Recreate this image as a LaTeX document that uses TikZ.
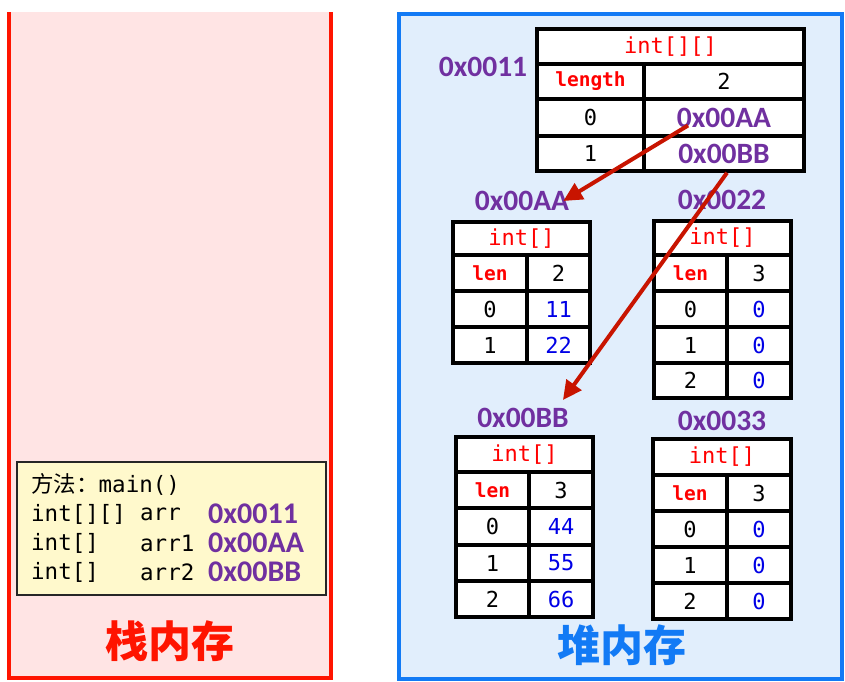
\documentclass[tikz,border=0pt]{standalone}
\usepackage{fontspec}
\setmainfont{Carlito}
\setmonofont{DejaVu Sans Mono}
\newfontfamily\cjk{Noto Sans CJK SC}
\usetikzlibrary{arrows.meta,calc}
\definecolor{hexpurple}{RGB}{112,48,160}
\definecolor{valblue}{RGB}{0,0,230}
\definecolor{arrred}{RGB}{200,20,0}
\definecolor{stackred}{RGB}{255,20,0}
\definecolor{stackfill}{RGB}{255,228,228}
\definecolor{heapblue}{RGB}{18,122,245}
\definecolor{heapfill}{RGB}{225,238,252}
\definecolor{methfill}{RGB}{255,249,204}
\newcommand\cel[7]{\node[#1,minimum width={#5-#3},minimum height={#6-#4}] (#2) at ({(#3+#5)/2},{(#4+#6)/2}) {#7};}
\begin{document}
\begin{tikzpicture}[x=1pt,y=-1pt,
  cell/.style={draw=black, line width=3.5pt, fill=white, inner sep=0pt, font=\ttfamily\fontsize{22}{24}\selectfont},
  hdr/.style={cell, text=red},
  lenc/.style={cell, text=red, font=\ttfamily\bfseries\fontsize{19.5}{22}\selectfont},
  valc/.style={cell, text=valblue},
  hexc/.style={cell, text=hexpurple, font=\bfseries\fontsize{29.5}{30}\selectfont},
  hexlab/.style={text=hexpurple, inner sep=0pt, font=\bfseries\fontsize{29.5}{30}\selectfont},
  mono/.style={inner sep=0pt, anchor=west, font=\ttfamily\fontsize{22.5}{24}\selectfont},
  monohex/.style={inner sep=0pt, anchor=west, text=hexpurple, font=\bfseries\fontsize{30}{30}\selectfont},
  arr/.style={draw=arrred, line width=4pt, -{Triangle[length=19pt,width=18pt]}},
  big/.style={inner sep=0pt, font=\cjk\bfseries\fontsize{43}{44}\selectfont}
]
\useasboundingbox (0,0) rectangle (845,681);
% stack memory
\fill[stackfill] (9,12) rectangle (331,678);
\draw[stackred, line width=4pt] (9,12) -- (9,678) -- (331,678) -- (331,12);
% heap memory
\draw[heapblue, fill=heapfill, line width=4pt] (399,14) rectangle (842,679);

% method frame
\node[draw=black!85, line width=1.3pt, fill=methfill, minimum width=309, minimum height=133, inner sep=0pt] (mbox) at (171.5,528.5) {};
\node[mono] (m1) at (31,484) {{\cjk 方法：}main()};
\node[mono] (m2a) at (31,514) {int[][]};
\node[mono] (m2b) at (140,514) {arr};
\node[monohex] (m2c) at (208,514) {0x0011};
\node[mono] (m3a) at (31,543) {int[]};
\node[mono] (m3b) at (140,543) {arr1};
\node[monohex] (m3c) at (208,543) {0x00AA};
\node[mono] (m4a) at (31,572) {int[]};
\node[mono] (m4b) at (140,572) {arr2};
\node[monohex] (m4c) at (208,572) {0x00BB};
\node[big, text=stackred] (stk) at (170,641) {栈内存};

% top table
\node[hexlab] (l11) at (483,67) {0x0011};
\cel{hdr}{ta}{537}{29}{804}{64}{int[][]}
\cel{lenc}{tal}{537}{64}{644}{99}{length}
\cel{cell}{tav}{644}{64}{804}{99}{2}
\cel{cell}{ta0}{537}{99}{644}{136}{0}
\cel{hexc}{tav0}{644}{99}{804}{136}{0x00AA}
\cel{cell}{ta1}{537}{136}{644}{171}{1}
\cel{hexc}{tav1}{644}{136}{804}{171}{0x00BB}

% 0x00AA
\node[hexlab] (lAA) at (522,201) {0x00AA};
\cel{hdr}{aah}{453}{222}{590}{255}{int[]}
\cel{lenc}{aal}{453}{255}{527}{291}{len}
\cel{cell}{aav}{527}{255}{590}{291}{2}
\cel{cell}{aa0}{453}{291}{527}{327}{0}
\cel{valc}{aav0}{527}{291}{590}{327}{11}
\cel{cell}{aa1}{453}{327}{527}{363}{1}
\cel{valc}{aav1}{527}{327}{590}{363}{22}

% 0x0022
\node[hexlab] (l22) at (722,200) {0x0022};
\cel{hdr}{bh}{654}{221}{791}{255}{int[]}
\cel{lenc}{bl}{654}{255}{727}{291}{len}
\cel{cell}{bv}{727}{255}{791}{291}{3}
\cel{cell}{b0}{654}{291}{727}{327}{0}
\cel{valc}{bv0}{727}{291}{791}{327}{0}
\cel{cell}{b1}{654}{327}{727}{363}{1}
\cel{valc}{bv1}{727}{327}{791}{363}{0}
\cel{cell}{b2}{654}{363}{727}{398}{2}
\cel{valc}{bv2}{727}{363}{791}{398}{0}

% 0x00BB
\node[hexlab] (lBB) at (523,418) {0x00BB};
\cel{hdr}{ch}{456}{437}{593}{472}{int[]}
\cel{lenc}{cl}{456}{472}{529}{508}{len}
\cel{cell}{cv}{529}{472}{593}{508}{3}
\cel{cell}{c0}{456}{508}{529}{545}{0}
\cel{valc}{cv0}{529}{508}{593}{545}{44}
\cel{cell}{c1}{456}{545}{529}{581}{1}
\cel{valc}{cv1}{529}{545}{593}{581}{55}
\cel{cell}{c2}{456}{581}{529}{617}{2}
\cel{valc}{cv2}{529}{581}{593}{617}{66}

% 0x0033
\node[hexlab] (l33) at (722,421) {0x0033};
\cel{hdr}{dh}{653}{439}{791}{475}{int[]}
\cel{lenc}{dl}{653}{475}{727}{511}{len}
\cel{cell}{dv}{727}{475}{791}{511}{3}
\cel{cell}{d0}{653}{511}{727}{547}{0}
\cel{valc}{dv0}{727}{511}{791}{547}{0}
\cel{cell}{d1}{653}{547}{727}{583}{1}
\cel{valc}{dv1}{727}{547}{791}{583}{0}
\cel{cell}{d2}{653}{583}{727}{619}{2}
\cel{valc}{dv2}{727}{583}{791}{619}{0}

\node[big, text=heapblue] (hp) at (622,645) {堆内存};

% arrows
\coordinate (s1) at ($(tav0.center)+(-36,8)$);
\coordinate (e1) at ($(lAA.east)+(-6,0)$);
\coordinate (s2) at ($(tav1.south)+(3,0)$);
\coordinate (e2) at ($(lBB.north east)+(-6,-8)$);
\draw[arr] (s1) -- (e1);
\draw[arr] (s2) -- (e2);
\end{tikzpicture}
\end{document}
